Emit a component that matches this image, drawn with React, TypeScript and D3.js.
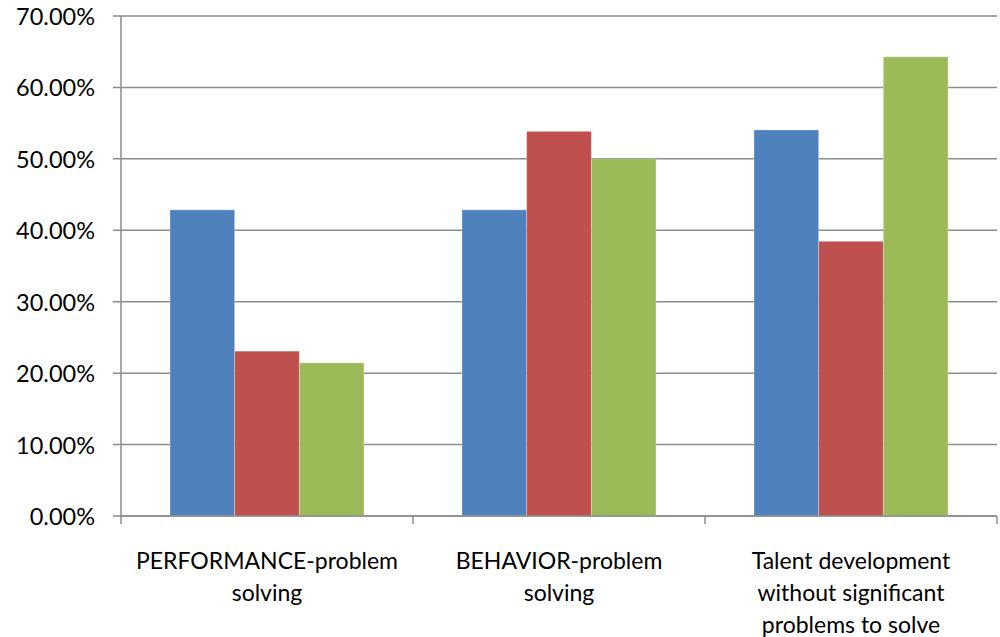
import React from "react";
import * as d3 from "d3";

const categories = [
  ["PERFORMANCE-problem", "solving"],
  ["BEHAVIOR-problem", "solving"],
  ["Talent development", "without significant", "problems to solve"],
];
const seriesA = [42.86, 42.86, 54.05];
const seriesB = [23.08, 53.85, 38.46];
const seriesC = [21.43, 50.0, 64.29];
const yTicks = [0, 10, 20, 30, 40, 50, 60, 70];
const colors = ["#4F81BD", "#C0504D", "#9BBB59"];

const W = 1000;
const H = 637;
const left = 121;
const right = 997;
const top = 16;
const bottom = 516;

export default function App() {
  const series = [seriesA, seriesB, seriesC];
  const x0 = d3
    .scaleBand<number>()
    .domain(categories.map((_, i) => i))
    .range([left, right])
    .paddingInner(0)
    .paddingOuter(0);
  const groupPad = x0.bandwidth() * (49 / 292);
  const x1 = d3
    .scaleBand<number>()
    .domain([0, 1, 2])
    .range([groupPad, x0.bandwidth() - groupPad]);
  const y = d3.scaleLinear().domain([0, 70]).range([bottom, top]);
  const font = "Lato, 'Noto Sans', sans-serif";

  return (
    <svg
      width={W}
      height={H}
      style={{ position: "absolute", left: 0, top: 0, background: "#fff" }}
    >
      {yTicks.map((t) => (
        <g key={t}>
          <line
            x1={left - 8}
            x2={right}
            y1={y(t)}
            y2={y(t)}
            stroke="#8c8c8c"
            strokeWidth={1.5}
          />
          <text
            x={95}
            y={y(t)}
            textAnchor="end"
            dominantBaseline="central"
            fontFamily={font}
            fontSize={23.5}
            fill="#000"
          >
            {t.toFixed(2)}%
          </text>
        </g>
      ))}
      {series.map((vals, s) =>
        vals.map((v, i) => (
          <rect
            key={`${s}-${i}`}
            x={(x0(i) as number) + (x1(s) as number)}
            y={y(v)}
            width={x1.bandwidth()}
            height={y(0) - y(v)}
            fill={colors[s]}
            stroke="rgba(255,255,255,0.35)"
            strokeWidth={0.8}
          />
        ))
      )}
      <line x1={left} x2={left} y1={top} y2={bottom} stroke="#8c8c8c" strokeWidth={1.5} />
      <line x1={left} x2={right} y1={bottom} y2={bottom} stroke="#8c8c8c" strokeWidth={1.5} />
      {[0, 1, 2, 3].map((i) => {
        const xx = i < 3 ? (x0(i) as number) : right;
        return (
          <line
            key={i}
            x1={xx}
            x2={xx}
            y1={bottom}
            y2={bottom + 8}
            stroke="#8c8c8c"
            strokeWidth={1.5}
          />
        );
      })}
      {categories.map((lines, i) => (
        <text
          key={i}
          x={(x0(i) as number) + x0.bandwidth() / 2}
          y={560}
          textAnchor="middle"
          fontFamily={font}
          fontSize={23}
          fill="#000"
        >
          {lines.map((ln, j) => (
            <tspan key={j} x={(x0(i) as number) + x0.bandwidth() / 2} y={560 + j * 32} dominantBaseline="central">
              {ln}
            </tspan>
          ))}
        </text>
      ))}
    </svg>
  );
}
